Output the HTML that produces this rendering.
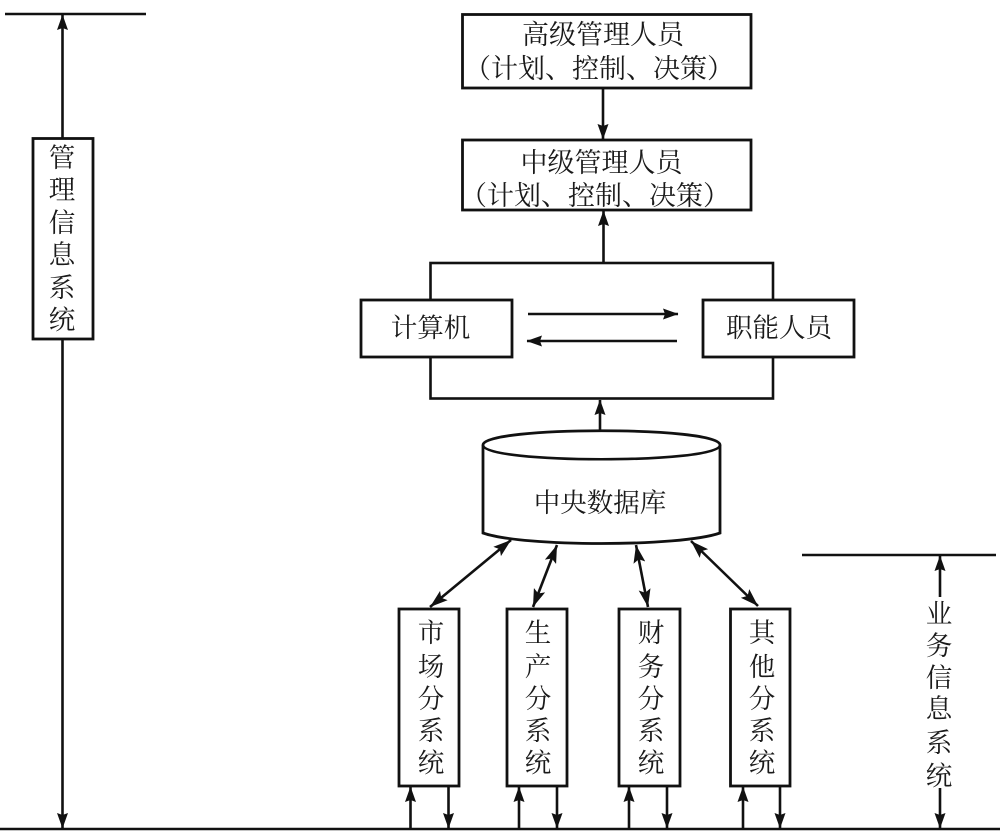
<!DOCTYPE html>
<html><head><meta charset="utf-8"><style>
html,body{margin:0;padding:0;background:#fff;width:1000px;height:838px;overflow:hidden}
svg{display:block}
text{font-family:"Liberation Serif","Noto Serif CJK SC",serif;fill:#1a1a1a;font-size:26.5px;text-anchor:middle}
.t{font-size:27px}
.l{stroke:#111;stroke-width:2.6;fill:none}
.b{stroke:#111;stroke-width:2.8;fill:#fff}
</style></head><body>
<svg width="1000" height="838" viewBox="0 0 1000 838">
<defs>
<marker id="a" markerWidth="16" markerHeight="11" refX="15" refY="5.5" orient="auto-start-reverse" markerUnits="userSpaceOnUse"><path d="M0 0L15.5 5.5L0 11L2 5.5Z" fill="#111"/></marker>
<marker id="d" markerWidth="19" markerHeight="12" refX="18" refY="6" orient="auto-start-reverse" markerUnits="userSpaceOnUse"><path d="M0 0L18 6L0 12L3.500 6Z" fill="#111"/></marker>
</defs>
<!-- left bracket -->
<line class="l" x1="5" y1="14" x2="146" y2="14"/>
<line class="l" x1="62.5" y1="15" x2="62.5" y2="828" marker-start="url(#a)" marker-end="url(#a)"/>
<rect class="b" x="33" y="138.500" width="60" height="200.500"/>
<text x="62" y="167">管</text><text x="62" y="199">理</text><text x="62" y="232">信</text><text x="62" y="264">息</text><text x="62" y="297">系</text><text x="62" y="329">统</text>
<!-- baseline -->
<line x1="0" y1="829" x2="1000" y2="829" stroke="#111" stroke-width="2.6"/>
<!-- top boxes -->
<rect class="b" x="462.500" y="14.500" width="288.500" height="73.500"/>
<text class="t" x="603" y="44">高级管理人员</text>
<text class="t" x="599" y="78">（计划、控制、决策）</text>
<line class="l" x1="603" y1="88" x2="603" y2="139" marker-end="url(#a)"/>
<rect class="b" x="462.500" y="140" width="288.500" height="70"/>
<text class="t" x="601.500" y="172">中级管理人员</text>
<text class="t" x="595" y="205">（计划、控制、决策）</text>
<line class="l" x1="603.500" y1="263" x2="603.500" y2="211" marker-end="url(#a)"/>
<!-- middle frame -->
<rect class="l" x="430.500" y="263" width="342.500" height="135.500"/>
<rect class="b" x="361" y="300" width="151" height="57"/>
<text x="430.500" y="337">计算机</text>
<rect class="b" x="703" y="300" width="151" height="57"/>
<text x="779" y="337">职能人员</text>
<line class="l" x1="528" y1="314" x2="678" y2="314" marker-end="url(#a)"/>
<line class="l" x1="677" y1="341" x2="527" y2="341" marker-end="url(#a)"/>
<line class="l" x1="600" y1="431" x2="600" y2="400" marker-end="url(#a)"/>
<!-- cylinder -->
<path class="b" d="M483 445C483 426 720 426 720 445V533C680 547 523 547 483 533Z"/>
<path class="l" d="M483 445C483 464 720 464 720 445"/>
<text x="600" y="512">中央数据库</text>
<!-- connectors -->
<line class="l" x1="430" y1="607" x2="511" y2="540" marker-start="url(#d)" marker-end="url(#d)"/>
<line class="l" x1="533" y1="607" x2="557" y2="545" marker-start="url(#d)" marker-end="url(#d)"/>
<line class="l" x1="648" y1="607" x2="636" y2="545" marker-start="url(#d)" marker-end="url(#d)"/>
<line class="l" x1="758" y1="606" x2="691" y2="541" marker-start="url(#d)" marker-end="url(#d)"/>
<!-- subsystem boxes -->
<rect class="b" x="399" y="609" width="60" height="177"/>
<rect class="b" x="507" y="609" width="60" height="177"/>
<rect class="b" x="619" y="609" width="61" height="177"/>
<rect class="b" x="730.500" y="609" width="59.500" height="177"/>
<text x="431" y="642">市</text><text x="431" y="676">场</text><text x="431" y="708">分</text><text x="431" y="740">系</text><text x="431" y="772">统</text>
<text x="538" y="642">生</text><text x="538" y="676">产</text><text x="538" y="708">分</text><text x="538" y="740">系</text><text x="538" y="772">统</text>
<text x="651" y="642">财</text><text x="651" y="676">务</text><text x="651" y="708">分</text><text x="651" y="740">系</text><text x="651" y="772">统</text>
<text x="762" y="642">其</text><text x="762" y="676">他</text><text x="762" y="708">分</text><text x="762" y="740">系</text><text x="762" y="772">统</text>
<!-- bottom arrows -->
<line class="l" x1="410.500" y1="828" x2="410.500" y2="787" marker-end="url(#a)"/>
<line class="l" x1="448.500" y1="786" x2="448.500" y2="828" marker-end="url(#a)"/>
<line class="l" x1="519" y1="828" x2="519" y2="787" marker-end="url(#a)"/>
<line class="l" x1="557" y1="786" x2="557" y2="828" marker-end="url(#a)"/>
<line class="l" x1="629" y1="828" x2="629" y2="787" marker-end="url(#a)"/>
<line class="l" x1="667" y1="786" x2="667" y2="828" marker-end="url(#a)"/>
<line class="l" x1="743" y1="828" x2="743" y2="787" marker-end="url(#a)"/>
<line class="l" x1="780" y1="786" x2="780" y2="828" marker-end="url(#a)"/>
<!-- right bracket -->
<line class="l" x1="802" y1="555" x2="996" y2="555"/>
<line class="l" x1="940" y1="556" x2="940" y2="597" marker-start="url(#a)"/>
<line class="l" x1="940" y1="788" x2="940" y2="828" marker-end="url(#a)"/>
<text x="939" y="623">业</text><text x="939" y="655">务</text><text x="939" y="687">信</text><text x="939" y="718">息</text><text x="939" y="752">系</text><text x="939" y="785">统</text>
</svg>
</body></html>
